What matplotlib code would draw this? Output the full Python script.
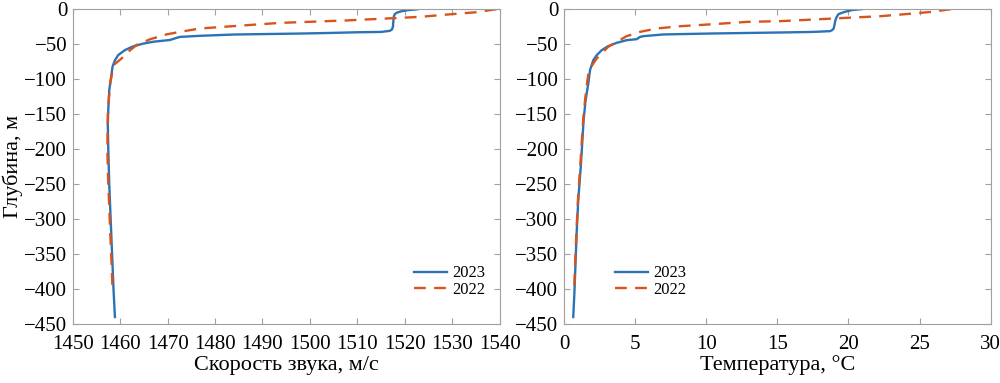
"""Sound speed and temperature profiles, 2023 vs 2022."""

import matplotlib
matplotlib.use("Agg")
import matplotlib.pyplot as plt

plt.rcParams["font.family"] = ["Liberation Serif", "DejaVu Serif"]
plt.rcParams["font.size"] = 15

BLUE = "#2b73b6"
ORANGE = "#d9541c"
SPINE = "#a0a0a0"

# sound speed, 2023
ss23_depth = [0, -1.5, -3, -5, -7, -10, -16, -25, -29, -31, -32.5, -33, -34, -34.8,
              -36.2, -38, -39.6, -41, -44, -46.5, -49, -53, -58.5, -65.5, -73, -82,
              -97, -116, -144, -165, -200, -250, -300, -350, -400, -440]
ss23 = [1522.7, 1520.5, 1519.3, 1518.3, 1517.9, 1517.7, 1517.6, 1517.5, 1517.3, 1516.8,
        1515.0, 1510.0, 1504.0, 1498.0, 1484.0, 1477.0, 1472.6, 1471.9, 1470.5, 1467.0,
        1465.0, 1462.8, 1461.0, 1459.6, 1458.9, 1458.4, 1458.1, 1457.7, 1457.5, 1457.4,
        1457.5, 1457.7, 1458.0, 1458.3, 1458.6, 1458.9]

# sound speed, 2022
ss22_depth = [0, -2, -4, -7, -11, -13.3, -16, -18.5, -19.6, -24.3, -27.6, -32.4, -36,
              -43, -51, -58.6, -65.7, -70.4, -80, -106, -130, -150, -200, -250, -300,
              -350, -400]
ss22 = [1539.3, 1537.3, 1535.7, 1530.1, 1523.1, 1516.1, 1508.0, 1498.0, 1493.6, 1483.7,
        1476.8, 1472.6, 1469.8, 1466.3, 1463.5, 1462.1, 1461.0, 1460.3, 1458.6, 1457.9,
        1457.6, 1457.4, 1457.3, 1457.5, 1457.8, 1458.1, 1458.4]

# temperature, 2023
t23_depth = [0, -1, -4, -7, -12, -16, -24, -27.6, -30, -31.4, -32.5, -33.3, -34.7, -36.1,
             -38.5, -39.6, -42.9, -44.3, -48.1, -52.9, -58.6, -65.7, -72.9, -87, -106,
             -130, -158, -225, -273, -320, -368, -406, -440]
t23 = [20.9, 20.3, 19.7, 19.3, 19.15, 19.08, 19.0, 18.96, 18.85, 18.7, 17.5, 15.2, 10.5,
       7.0, 5.6, 5.35, 5.1, 4.4, 3.7, 3.1, 2.65, 2.3, 2.06, 1.83, 1.71, 1.52, 1.38, 1.18,
       1.0, 0.89, 0.80, 0.73, 0.65]

# temperature, 2022
t22_depth = [0, -3.9, -6.1, -10, -13.3, -17.1, -18.1, -21.4, -24.3, -27.6, -32.4, -38.6,
             -46.7, -53.9, -63.3, -70.4, -87, -106, -130, -160, -225, -273, -320, -360,
             -400]
t22 = [27.2, 25.8, 24.6, 22.25, 18.96, 15.2, 12.87, 10.5, 8.2, 6.5, 5.35, 4.4, 3.7, 3.1,
       2.65, 2.3, 1.75, 1.62, 1.48, 1.34, 1.14, 0.98, 0.87, 0.79, 0.72]


def style_axes(ax):
    for sp in ax.spines.values():
        sp.set_color(SPINE)
        sp.set_linewidth(0.8)
    ax.tick_params(direction="in", length=4, color=SPINE, top=True, right=True,
                   labelsize=15)
    ax.tick_params(axis="x", pad=8)
    ax.tick_params(axis="y", pad=4)
    ax.set_ylim(-450, 0)
    ax.set_yticks(range(-450, 1, 50))


fig = plt.figure(figsize=(10, 3.83), dpi=100)
ax1 = fig.add_axes([0.0727, 0.154, 0.427, 0.822])
ax2 = fig.add_axes([0.564, 0.154, 0.4267, 0.822])

leg_kw = dict(frameon=False, fontsize=12, handlelength=2.0, handletextpad=0.3,
              labelspacing=0.05, borderaxespad=0.2)

ax1.plot(ss23, ss23_depth, color=BLUE, lw=1.7, label="2023")
ax1.plot(ss22, ss22_depth, color=ORANGE, lw=1.7, ls=(0, (5, 3.5)), label="2022")
ax1.set_xlim(1450, 1540)
ax1.set_xticks(range(1450, 1541, 10))
ax1.set_xlabel("Скорость звука, м/с", labelpad=1, fontsize=16)
ax1.set_ylabel("Глубина, м", labelpad=1, fontsize=16)
style_axes(ax1)
ax1.legend(loc="lower right", bbox_to_anchor=(0.99, 0.05), **leg_kw)

ax2.plot(t23, t23_depth, color=BLUE, lw=1.7, label="2023")
ax2.plot(t22, t22_depth, color=ORANGE, lw=1.7, ls=(0, (5, 3.5)), label="2022")
ax2.set_xlim(0, 30)
ax2.set_xticks(range(0, 31, 5))
ax2.set_xlabel("Температура, °C", labelpad=1, fontsize=16)
style_axes(ax2)
ax2.legend(loc="lower left", bbox_to_anchor=(0.095, 0.05), **leg_kw)

fig.savefig("out.png", dpi=100)
